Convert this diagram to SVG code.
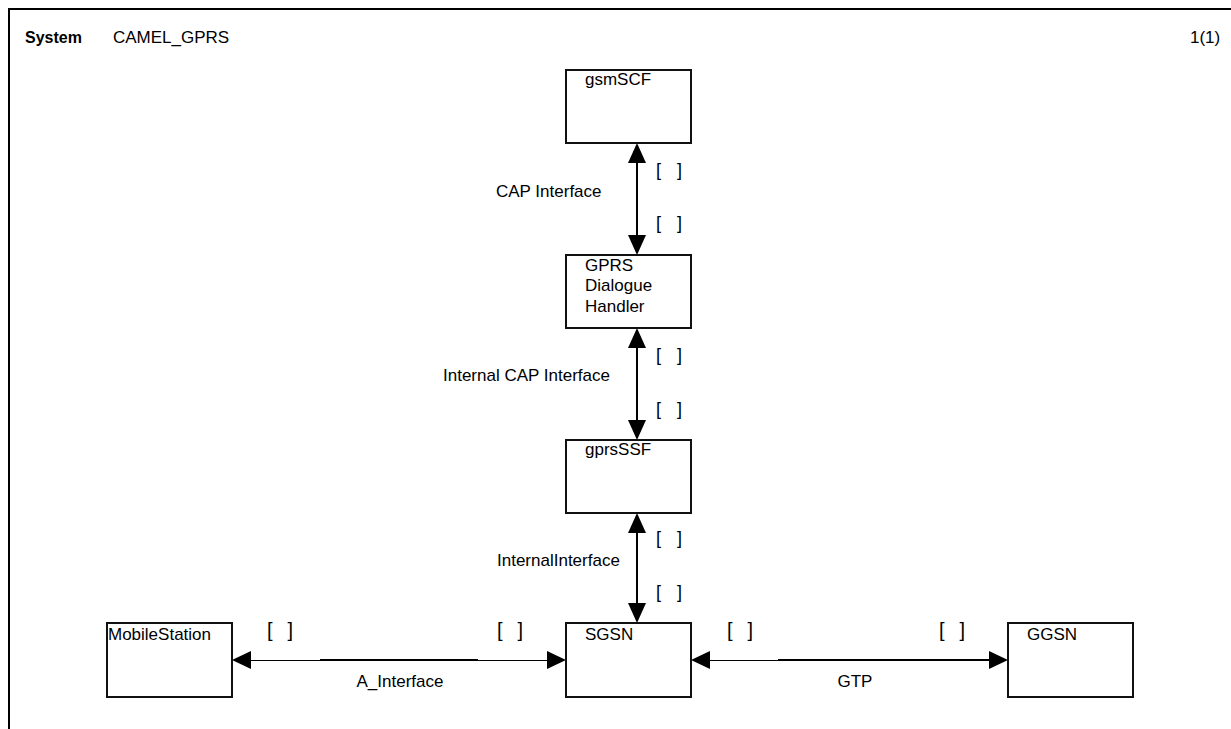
<svg xmlns="http://www.w3.org/2000/svg" width="1231" height="729" viewBox="0 0 1231 729">
<defs>
<style>
text{font-family:"Liberation Sans",Arial,sans-serif;fill:#000}
.t{font-size:17px}
.b{font-size:18px}
.bh{font-size:20px}
.box{fill:#fff;stroke:#111;stroke-width:2}
.v{stroke:#000;stroke-width:2;fill:none}
.h{stroke:#000;stroke-width:1;fill:none}
.hk{stroke:#000;stroke-width:2;fill:none}
.ah{fill:#000;stroke:none}
</style>
</defs>
<rect width="1231" height="729" fill="#fff"/>
<g id="frame">
<path d="M9 729 V9 H1231" fill="none" stroke="#000" stroke-width="2"/>
<text x="25" y="43" style="font-size:16px;font-weight:bold">System</text>
<text x="113" y="43" class="t">CAMEL_GPRS</text>
<text x="1190" y="43" class="t">1(1)</text>
</g>
<g id="connectors">
<g id="c-cap">
<line class="v" x1="637" y1="160" x2="637" y2="238"/>
<polygon class="ah" points="637,143 628,163 646,163"/>
<polygon class="ah" points="637,255 628,235 646,235"/>
<text x="496" y="197" class="t">CAP Interface</text>
<text x="656" y="176" class="b" xml:space="preserve" textLength="26" lengthAdjust="spacing">[   ]</text>
<text x="656" y="229" class="b" xml:space="preserve" textLength="26" lengthAdjust="spacing">[   ]</text>
</g>
<g id="c-intcap">
<line class="v" x1="637" y1="345" x2="637" y2="423"/>
<polygon class="ah" points="637,328 628,348 646,348"/>
<polygon class="ah" points="637,440 628,420 646,420"/>
<text x="443" y="381" class="t">Internal CAP Interface</text>
<text x="656" y="361" class="b" xml:space="preserve" textLength="26" lengthAdjust="spacing">[   ]</text>
<text x="656" y="415" class="b" xml:space="preserve" textLength="26" lengthAdjust="spacing">[   ]</text>
</g>
<g id="c-int">
<line class="v" x1="637" y1="530" x2="637" y2="606"/>
<polygon class="ah" points="637,513 628,533 646,533"/>
<polygon class="ah" points="637,623 628,603 646,603"/>
<text x="497" y="566" class="t">InternalInterface</text>
<text x="656" y="544" class="b" xml:space="preserve" textLength="26" lengthAdjust="spacing">[   ]</text>
<text x="656" y="598" class="b" xml:space="preserve" textLength="26" lengthAdjust="spacing">[   ]</text>
</g>
<g id="c-a">
<line class="h" x1="248" y1="660.5" x2="550" y2="660.5"/>
<line class="hk" x1="320" y1="660" x2="478" y2="660"/>
<polygon class="ah" points="232,660 251,651 251,669"/>
<polygon class="ah" points="566,660 547,651 547,669"/>
<text x="400" y="687" class="t" text-anchor="middle">A_Interface</text>
<text x="267" y="637" class="bh" xml:space="preserve" textLength="26" lengthAdjust="spacing">[   ]</text>
<text x="497" y="637" class="bh" xml:space="preserve" textLength="26" lengthAdjust="spacing">[   ]</text>
</g>
<g id="c-gtp">
<line class="h" x1="707" y1="660.5" x2="780" y2="660.5"/>
<line class="hk" x1="778" y1="660" x2="992" y2="660"/>
<polygon class="ah" points="691,660 710,651 710,669"/>
<polygon class="ah" points="1008,660 989,651 989,669"/>
<text x="855" y="687" class="t" text-anchor="middle">GTP</text>
<text x="727" y="637" class="bh" xml:space="preserve" textLength="26" lengthAdjust="spacing">[   ]</text>
<text x="939" y="637" class="bh" xml:space="preserve" textLength="26" lengthAdjust="spacing">[   ]</text>
</g>
</g>
<g id="gsmSCF">
<rect class="box" x="566" y="70" width="125" height="73"/>
<text x="585" y="85" class="t">gsmSCF</text>
</g>
<g id="GPRSDialogueHandler">
<rect class="box" x="566" y="255" width="125" height="73"/>
<text x="585" y="271" class="t">GPRS</text>
<text x="585" y="291" class="t">Dialogue</text>
<text x="585" y="312" class="t">Handler</text>
</g>
<g id="gprsSSF">
<rect class="box" x="566" y="440" width="125" height="73"/>
<text x="585" y="455" class="t">gprsSSF</text>
</g>
<g id="SGSN">
<rect class="box" x="566" y="623" width="125" height="74"/>
<text x="585" y="640" class="t">SGSN</text>
</g>
<g id="MobileStation">
<rect class="box" x="107" y="623" width="125" height="74"/>
<text x="108" y="640" class="t">MobileStation</text>
</g>
<g id="GGSN">
<rect class="box" x="1008" y="623" width="125" height="74"/>
<text x="1027" y="640" class="t">GGSN</text>
</g>
</svg>
